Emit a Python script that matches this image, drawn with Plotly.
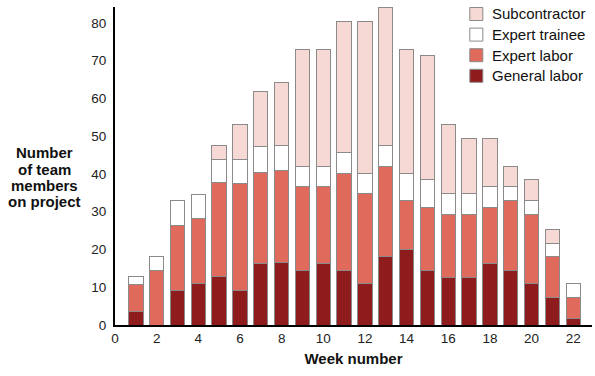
import plotly.graph_objects as go

weeks = list(range(1, 23))
general_labor = [3.5, 0, 9.2, 10.9, 12.8, 9.2, 16.4, 16.6, 14.5, 16.3, 14.5, 10.9,
                 18.2, 20.0, 14.5, 12.7, 12.7, 16.3, 14.5, 10.9, 7.3, 1.8]
expert_labor = [7.3, 14.4, 17.2, 17.3, 24.9, 28.2, 24.1, 24.3, 22.2, 20.4, 25.7, 23.8,
                23.7, 13.0, 16.5, 16.5, 16.5, 14.7, 18.5, 18.3, 10.8, 5.5]
expert_trainee = [2.0, 3.8, 6.5, 6.3, 6.1, 6.4, 6.7, 6.6, 5.3, 5.3, 5.4, 5.5,
                  5.6, 7.2, 7.4, 5.5, 5.5, 5.6, 3.6, 3.7, 3.4, 3.6]
subcontractor = [0, 0, 0, 0, 3.7, 9.2, 14.7, 16.6, 31.0, 31.0, 34.8, 40.2,
                 36.6, 32.8, 32.9, 18.3, 14.6, 12.7, 5.4, 5.5, 3.8, 0]

x_ticks = [0, 2, 4, 6, 8, 10, 12, 14, 16, 18, 20, 22]
y_ticks = [0, 10, 20, 30, 40, 50, 60, 70, 80]
y_title_lines = ["Number", "of team", "members", "on project"]

series = [
    ("General labor", general_labor, "#8F1C1C"),
    ("Expert labor", expert_labor, "#E06A5C"),
    ("Expert trainee", expert_trainee, "#FFFFFF"),
    ("Subcontractor", subcontractor, "#F6D8D5"),
]

FONT = "Liberation Sans, Arial, sans-serif"
EDGE = "#8a8a8a"

fig = go.Figure()
for name, vals, color in series:
    fig.add_trace(go.Bar(
        x=weeks, y=vals, name=name, width=0.69, showlegend=False,
        marker=dict(color=color, line=dict(color=EDGE, width=1)),
    ))

annotations = []
shapes = []

# y-axis title, horizontal, line by line (tight line spacing)
for i, line in enumerate(y_title_lines):
    annotations.append(dict(
        text="<b>%s</b>" % line,
        xref="paper", yref="paper", x=-0.147, y=0.542 - i * 0.0515,
        xanchor="center", yanchor="middle", showarrow=False,
        font=dict(family=FONT, size=15, color="#111"),
    ))

# legend (top entry = top of stack), compact spacing like the reference
legend_top_y = 0.978
legend_step = 0.0648
for i, (name, vals, color) in enumerate(reversed(series)):
    yc = legend_top_y - i * legend_step
    shapes.append(dict(
        type="rect", xref="paper", yref="paper",
        xsizemode="pixel", ysizemode="pixel",
        xanchor=0.7575, yanchor=yc, x0=-6.5, x1=6.5, y0=-6.5, y1=6.5,
        fillcolor=color, line=dict(color=EDGE, width=1), layer="above",
    ))
    annotations.append(dict(
        text=name, xref="paper", yref="paper", x=0.786, y=yc,
        xanchor="left", yanchor="middle", showarrow=False,
        font=dict(family=FONT, size=15, color="#111"),
    ))

fig.update_layout(
    barmode="stack",
    width=595, height=376,
    margin=dict(l=115, r=3, t=7, b=51),
    paper_bgcolor="white", plot_bgcolor="white",
    font=dict(family=FONT, size=13.5, color="#222"),
    showlegend=False,
    xaxis=dict(
        range=[0, 22.9], tickvals=x_ticks, ticks="", showgrid=False, zeroline=False,
        showline=True, linecolor="black", linewidth=2,
        tickfont=dict(family=FONT, size=13.5, color="#222"),
        title=dict(text="<b>Week number</b>", font=dict(family=FONT, size=15, color="#111"),
                   standoff=8),
    ),
    yaxis=dict(
        range=[0, 84.2], tickvals=y_ticks, ticks="", showgrid=False, zeroline=False,
        showline=True, linecolor="black", linewidth=2,
        tickfont=dict(family=FONT, size=13.5, color="#222"),
        ticklabelstandoff=4,
    ),
    annotations=annotations,
    shapes=shapes,
)

fig.write_html("out.html", config={"displayModeBar": False},
               post_script="document.body.style.margin='0';")
